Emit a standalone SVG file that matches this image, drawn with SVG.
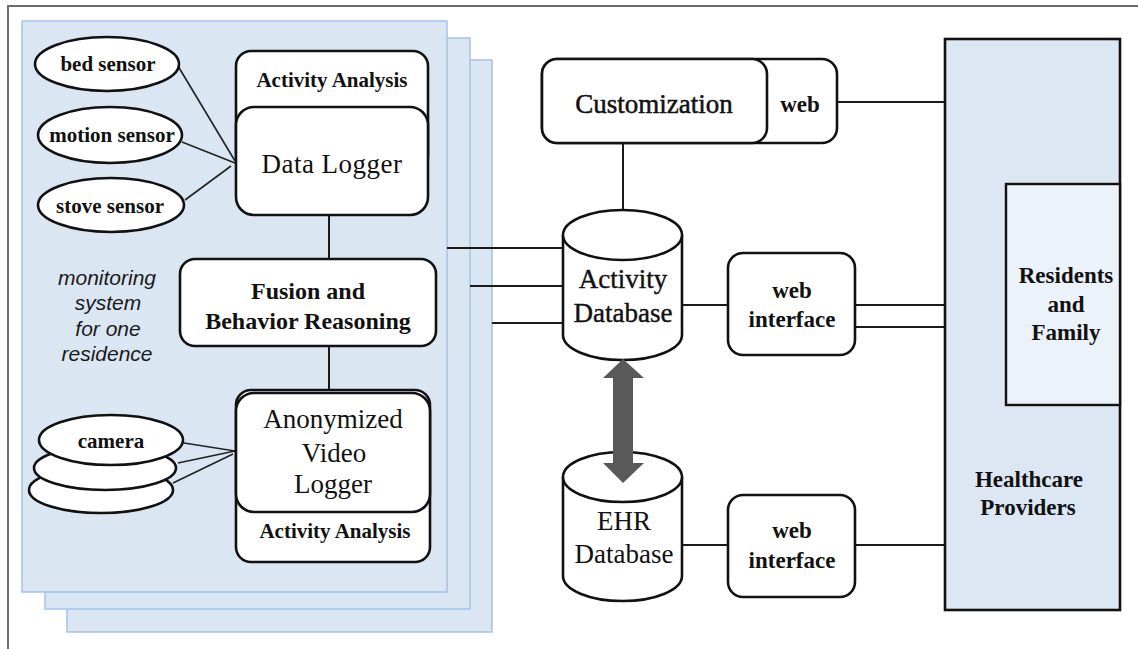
<svg xmlns="http://www.w3.org/2000/svg" width="1138" height="649" viewBox="0 0 1138 649">
  <style>
    .frame { fill: none; stroke: #6b6b6b; stroke-width: 2; }
    .panel { fill: #dbe6f3; stroke: #a6c2e8; stroke-width: 1.5; }
    .box { fill: #ffffff; stroke: #111111; stroke-width: 2.6; }
    .party { fill: #dce7f3; stroke: #111111; stroke-width: 2.6; }
    .party-inner { fill: #ecf2fa; stroke: #111111; stroke-width: 2.4; }
    .wire { fill: none; stroke: #1a1a1a; stroke-width: 2; }
    .thin { fill: none; stroke: #222222; stroke-width: 1.6; }
    .sb { font-family: "Liberation Serif", "Times New Roman", serif; font-weight: bold; fill: #111111; text-anchor: middle; }
    .sr { font-family: "Liberation Serif", "Times New Roman", serif; font-weight: normal; fill: #111111; text-anchor: middle; }
    .si { font-family: "Liberation Sans", Arial, sans-serif; font-style: italic; fill: #1a1a1a; text-anchor: middle; font-size: 21px; }
  </style>

  <!-- outer frame (left and top edges) -->
  <path class="frame" d="M8,649 V6 H1138"/>

  <!-- stacked residence panels -->
  <g id="residence-panels">
    <rect class="panel" x="67" y="60" width="425" height="572"/>
    <rect class="panel" x="45" y="38" width="425" height="571"/>
    <rect class="panel" x="22" y="21" width="425" height="571"/>
  </g>

  <!-- connectors -->
  <g id="connectors">
    <!-- sensors to data logger -->
    <line class="thin" x1="178" y1="66" x2="235" y2="161"/>
    <line class="thin" x1="182" y1="142" x2="235" y2="163"/>
    <line class="thin" x1="185" y1="200" x2="231" y2="166"/>
    <!-- cameras to video logger -->
    <line class="thin" x1="184" y1="443" x2="235" y2="451"/>
    <line class="thin" x1="178" y1="463" x2="235" y2="451"/>
    <line class="thin" x1="173" y1="483" x2="233" y2="454"/>
    <!-- internal chain -->
    <line class="wire" x1="329" y1="215" x2="329" y2="259"/>
    <line class="wire" x1="329" y1="346" x2="329" y2="390"/>
    <!-- panels to activity database -->
    <line class="wire" x1="447" y1="248" x2="563" y2="248"/>
    <line class="wire" x1="470" y1="286" x2="563" y2="286"/>
    <line class="wire" x1="492" y1="323" x2="563" y2="323"/>
    <!-- customization -->
    <line class="wire" x1="623" y1="143" x2="623" y2="210"/>
    <line class="wire" x1="837" y1="102" x2="945" y2="102"/>
    <!-- activity database web interface -->
    <line class="wire" x1="682" y1="305" x2="728" y2="305"/>
    <line class="wire" x1="855" y1="305" x2="945" y2="305"/>
    <line class="wire" x1="855" y1="327" x2="1006" y2="327"/>
    <!-- EHR web interface -->
    <line class="wire" x1="682" y1="545" x2="728" y2="545"/>
    <line class="wire" x1="855" y1="545" x2="945" y2="545"/>
  </g>

  <!-- sensors -->
  <g id="bed-sensor">
    <ellipse class="box" cx="107" cy="64" rx="72" ry="27"/>
    <text class="sb" x="108" y="71" font-size="21">bed sensor</text>
  </g>
  <g id="motion-sensor">
    <ellipse class="box" cx="110" cy="135" rx="72" ry="28"/>
    <text class="sb" x="112" y="142" font-size="21">motion sensor</text>
  </g>
  <g id="stove-sensor">
    <ellipse class="box" cx="111" cy="205" rx="73" ry="27"/>
    <text class="sb" x="110" y="213" font-size="21">stove sensor</text>
  </g>

  <!-- cameras -->
  <g id="camera">
    <ellipse class="box" cx="101" cy="490" rx="72" ry="23"/>
    <ellipse class="box" cx="105" cy="468" rx="71" ry="22"/>
    <ellipse class="box" cx="111" cy="440" rx="72" ry="25"/>
    <text class="sb" x="111" y="448" font-size="21">camera</text>
  </g>

  <!-- panel caption -->
  <g id="panel-caption">
    <text class="si" x="107" y="285">monitoring</text>
    <text class="si" x="108" y="310">system</text>
    <text class="si" x="108" y="336">for one</text>
    <text class="si" x="107" y="361">residence</text>
  </g>

  <!-- data logger with activity analysis -->
  <g id="data-logger">
    <rect class="box" x="236" y="51" width="192" height="120" rx="15"/>
    <text class="sb" x="332" y="87" font-size="21">Activity Analysis</text>
    <rect class="box" x="236" y="107" width="192" height="108" rx="18"/>
    <text class="sr" x="332" y="173" font-size="27" letter-spacing="0.5">Data Logger</text>
  </g>

  <!-- fusion -->
  <g id="fusion">
    <rect class="box" x="180" y="259" width="256" height="87" rx="15"/>
    <text class="sb" x="308" y="299" font-size="24">Fusion and</text>
    <text class="sb" x="308" y="329" font-size="24">Behavior Reasoning</text>
  </g>

  <!-- anonymized video logger with activity analysis -->
  <g id="video-logger">
    <rect class="box" x="236" y="390" width="194" height="172" rx="15"/>
    <text class="sb" x="335" y="538" font-size="21">Activity Analysis</text>
    <rect class="box" x="236" y="393" width="194" height="119" rx="18"/>
    <text class="sr" x="333" y="428" font-size="27">Anonymized</text>
    <text class="sr" x="334" y="462" font-size="27">Video</text>
    <text class="sr" x="333" y="493" font-size="27">Logger</text>
  </g>

  <!-- customization -->
  <g id="customization">
    <rect class="box" x="542" y="59" width="295" height="84" rx="15"/>
    <rect class="box" x="542" y="59" width="225" height="84" rx="15"/>
    <text class="sr" x="654" y="113" font-size="27" stroke="#111111" stroke-width="0.5">Customization</text>
    <text class="sb" x="800" y="112" font-size="23">web</text>
  </g>

  <!-- activity database -->
  <g id="activity-database">
    <path class="box" d="M563,235 V335 A59.5,25 0 0 0 682,335 V235"/>
    <ellipse class="box" cx="622.5" cy="235" rx="59.5" ry="25"/>
    <text class="sr" x="623" y="288" font-size="27" stroke="#111111" stroke-width="0.4">Activity</text>
    <text class="sr" x="623" y="322" font-size="27" stroke="#111111" stroke-width="0.4">Database</text>
  </g>

  <!-- EHR database -->
  <g id="ehr-database">
    <path class="box" d="M563,477 V576 A59.5,25 0 0 0 682,576 V477"/>
    <ellipse class="box" cx="622.5" cy="477" rx="59.5" ry="25"/>
    <text class="sr" x="624" y="530" font-size="27">EHR</text>
    <text class="sr" x="624" y="563" font-size="27">Database</text>
  </g>

  <!-- two-way exchange between databases -->
  <g id="db-exchange">
    <polygon fill="#595959" points="623,359 644,378 633,378 633,463 644,463 623,483 603,463 613,463 613,378 603,378"/>
  </g>

  <!-- web interfaces -->
  <g id="web-interface-activity">
    <rect class="box" x="728" y="253" width="127" height="102" rx="15"/>
    <text class="sb" x="792" y="298" font-size="23">web</text>
    <text class="sb" x="792" y="327" font-size="23">interface</text>
  </g>
  <g id="web-interface-ehr">
    <rect class="box" x="728" y="495" width="127" height="102" rx="15"/>
    <text class="sb" x="792" y="538" font-size="23">web</text>
    <text class="sb" x="792" y="568" font-size="23">interface</text>
  </g>

  <!-- healthcare providers and residents -->
  <g id="healthcare-providers">
    <rect class="party" x="945" y="39" width="175" height="571"/>
    <text class="sb" x="1029" y="487" font-size="23">Healthcare</text>
    <text class="sb" x="1028" y="515" font-size="23">Providers</text>
  </g>
  <g id="residents-family">
    <rect class="party-inner" x="1006" y="184" width="114" height="221"/>
    <text class="sb" x="1066" y="283" font-size="23">Residents</text>
    <text class="sb" x="1066" y="312" font-size="23">and</text>
    <text class="sb" x="1066" y="340" font-size="23">Family</text>
  </g>
</svg>
